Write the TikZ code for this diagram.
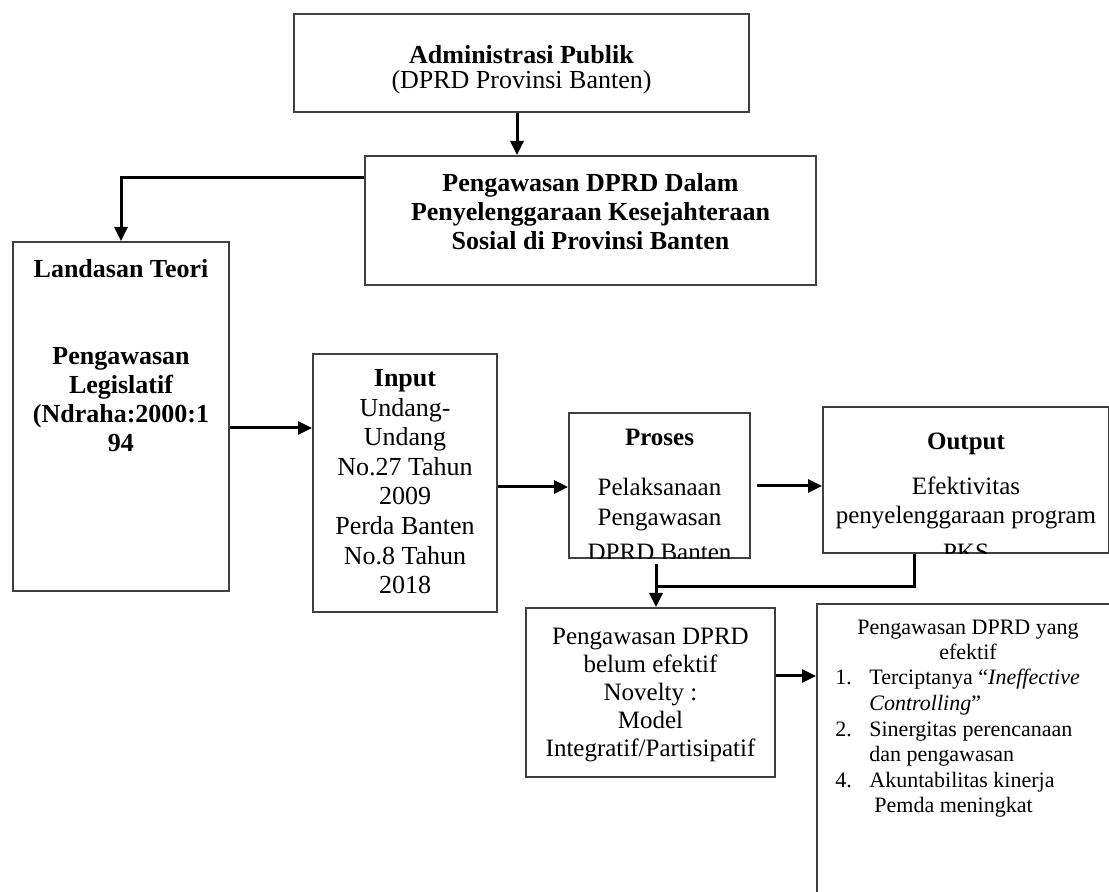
\documentclass[tikz,border=0pt]{standalone}
\usepackage{fontspec}
\setmainfont{Liberation Serif}
\usetikzlibrary{positioning,arrows.meta}

\tikzset{
  box/.style={draw=black!75, line width=1pt, anchor=north west, inner sep=0pt},
  txt/.style={align=center, inner sep=0pt},
  conn/.style={line width=1.5pt},
  arr/.style={conn, -{Triangle[length=7pt,width=6.5pt]}},
}

\begin{document}
\begin{tikzpicture}[x=0.5pt, y=-0.5pt]
	\useasboundingbox (0,0) rectangle (1109,892);
	\clip (0,0) rectangle (1109,892);

	% kotak
	\node[box, minimum width=227.5pt, minimum height=49pt] (admin) at (293,13) {};
	\node[box, minimum width=225.5pt, minimum height=64.5pt] (pengawasan) at (364,155) {};
	\node[box, minimum width=108pt, minimum height=174.5pt] (landasan) at (12,241) {};
	\node[box, minimum width=92pt, minimum height=129pt] (input) at (312,353) {};
	\node[box, minimum width=90.5pt, minimum height=72.5pt] (proses) at (568,412) {};
	\node[box, minimum width=143pt, minimum height=73pt] (output) at (822,406) {};
	\node[box, minimum width=124.5pt, minimum height=84.5pt] (novelty) at (525,607) {};
	\node[box, minimum width=151pt, minimum height=160pt] (hasil) at (816,603) {};

	% teks
	\node[txt, font=\fontsize{13}{12.5}\selectfont, below=16pt of admin.north] (admintxt)
		{\textbf{Administrasi Publik}\\(DPRD Provinsi Banten)};
	\node[txt, font=\bfseries\fontsize{13}{14.5}\selectfont, below=9pt of pengawasan.north] (pengtxt)
		{Pengawasan DPRD Dalam\\Penyelenggaraan Kesejahteraan\\Sosial di Provinsi Banten};
	\node[txt, font=\bfseries\fontsize{13}{14.5}\selectfont, below=9pt of landasan.north] (landtxt)
		{Landasan Teori\\[29pt]Pengawasan\\Legislatif\\(Ndraha:2000:1\\94};
	\node[txt, font=\fontsize{13}{14.8}\selectfont, below=8pt of input.north] (inputtxt)
		{\textbf{Input}\\Undang-\\Undang\\No.27 Tahun\\2009\\Perda Banten\\No.8 Tahun\\2018};
	\begin{scope}
		\clip (proses.south west) rectangle (proses.north east);
		\node[txt, font=\fontsize{12.5}{15}\selectfont, below=8.5pt of proses.north] (prosestxt)
			{\textbf{Proses}\\[10pt]Pelaksanaan\\Pengawasan\\[2.5pt]DPRD Banten};
	\end{scope}
	\begin{scope}
		\clip (output.south west) rectangle (output.north east);
		\node[txt, font=\fontsize{12.5}{14.5}\selectfont, below=13.5pt of output.north] (outputtxt)
			{\textbf{Output}\\[8pt]Efektivitas\\penyelenggaraan program\\[4pt]PKS};
	\end{scope}
	\node[txt, font=\fontsize{12.5}{14}\selectfont, below=10.5pt of novelty.north] (noveltytxt)
		{Pengawasan DPRD\\belum efektif\\Novelty :\\Model\\Integratif/Partisipatif};
	\node[txt, font=\fontsize{11}{12.5}\selectfont, below=8.5pt of hasil.north] (hasiltxt)
		{Pengawasan DPRD yang\\efektif};
	\node[txt, align=left, font=\fontsize{11}{12.8}\selectfont, below right=33pt and 9.5pt of hasil.north west] (hasillist)
		{\makebox[17pt][l]{1.}Terciptanya “\textit{Ineffective}\\
		 \hspace*{17pt}\textit{Controlling}”\\
		 \makebox[17pt][l]{2.}Sinergitas perencanaan\\
		 \hspace*{17pt}dan pengawasan\\
		 \makebox[17pt][l]{4.}Akuntabilitas kinerja\\
		 \hspace*{19.5pt}Pemda meningkat};

	% panah
	\draw[arr] (admin.south -| 517,0) -- (pengawasan.north -| 517,0);
	\draw[arr] (pengawasan.west |- 0,178) -| (landasan.north);
	\draw[arr] (landasan.east |- 0,428) -- (input.west |- 0,428);
	\draw[arr] (input.east |- 0,487) -- (proses.west |- 0,487);
	\draw[arr, shorten <=3pt] (proses.east |- 0,486) -- (output.west |- 0,486);
	\coordinate (join) at (656,587);
	\draw[conn] (output.south -| 914,0) |- (join);
	\draw[arr, shorten <=2.5pt] (proses.south -| join) -- (novelty.north -| join);
	\draw[arr] (novelty.east |- 0,676) -- (hasil.west |- 0,676);
\end{tikzpicture}
\end{document}
